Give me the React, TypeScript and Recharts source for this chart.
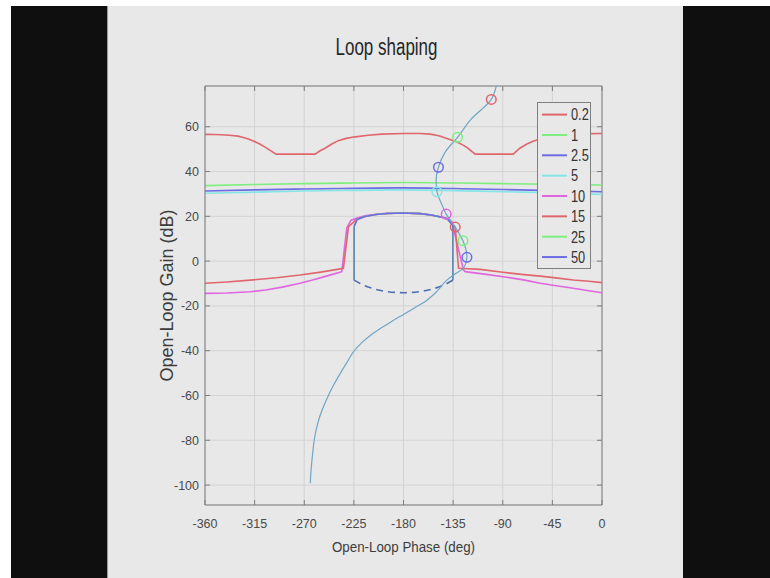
import React from 'react';
import {
  ComposedChart,
  Line,
  Scatter,
  XAxis,
  YAxis,
  CartesianGrid,
  ReferenceLine,
  Legend,
  Label,
} from 'recharts';

// ---------- axes ----------
const xTicks = [-360, -315, -270, -225, -180, -135, -90, -45, 0];
const yTicks = [-100, -80, -60, -40, -20, 0, 20, 40, 60];
const xDomain: [number, number] = [-360, 0];
const yDomain: [number, number] = [-108.9, 78.2];

// ---------- series ----------
const seriesNames = ['0.2', '1', '2.5', '5', '10', '15', '25', '50'];
const seriesColors = ['#e0666e', '#7eee7e', '#6c6ce4', '#86e6e6', '#e066e0', '#e0666e', '#7eee7e', '#6c6ce4'];

// 0.2
const phase02 = [-360, -352, -345, -338, -330, -326, -320.7, -314.6, -310, -305.5, -302, -299.5, -295.6, -260.2, -255.6, -251.1, -245, -239.2, -232, -223.9, -212, -199.6, -180, -165, -155.8, -148, -140.7, -133, -125.9, -122, -119.5, -115, -80.5, -77, -74.5, -68.1, -62, -56, -47, -37.8, -25, 0];
const gain02 = [56.6, 56.55, 56.45, 56.2, 55.8, 55.3, 54.5, 53.3, 52.2, 50.9, 49.8, 49.0, 47.8, 47.8, 49.3, 50.4, 52.3, 53.8, 54.8, 55.5, 56.2, 56.7, 57.0, 57.0, 56.7, 56.0, 54.8, 53.5, 51.8, 50.6, 49.6, 47.8, 47.8, 49.3, 50.4, 52.3, 53.6, 54.5, 55.5, 56.3, 56.8, 57.0];

// 1
const phase1 = [-360, -315, -270, -225, -180, -135, -90, -45, 0];
const gain1 = [33.7, 34.2, 34.6, 34.9, 35.1, 34.9, 34.6, 34.3, 34.0];
// 2.5
const phase25 = [-360, -315, -270, -225, -180, -135, -90, -45, 0];
const gain25 = [31.3, 31.8, 32.2, 32.5, 32.7, 32.4, 32.0, 31.5, 31.0];
// 5
const phase5 = [-360, -315, -270, -225, -180, -135, -90, -45, 0];
const gain5 = [30.3, 30.8, 31.3, 31.6, 31.8, 31.5, 31.0, 30.5, 29.8];

// 10
const phase10 = [-360, -340, -319.2, -305, -290, -273.8, -260, -250, -243.6, -236.0, -231.4, -227.5, -222, -215, -205, -195, -180, -165, -155, -145, -140, -136.1, -125.6, -124.0, -105, -86.2, -70, -56, -40, -26, -12, 0];
const gain10 = [-14.4, -14.2, -13.7, -12.9, -11.6, -9.9, -8.1, -6.7, -5.8, -4.7, 14.9, 18.3, 19.2, 20.2, 20.9, 21.3, 21.5, 21.2, 20.6, 19.6, 18.8, 17.6, -4.0, -4.7, -5.9, -7.2, -8.5, -9.9, -11.1, -12.1, -13.2, -14.1];

// 15
const phase15 = [-360, -340, -319.2, -295, -273.8, -255, -240, -234.5, -229.9, -222.3, -215, -205, -195, -180, -165, -155, -145, -140.7, -133.1, -130.1, -110.4, -90, -73, -56, -40, -26, -12, 0];
const gain15 = [-9.9, -9.3, -8.5, -7.4, -6.2, -4.9, -3.7, -3.2, 15.4, 18.7, 19.9, 20.8, 21.3, 21.5, 21.2, 20.6, 19.6, 19.1, 15.2, -3.2, -3.7, -5.0, -5.9, -6.7, -7.6, -8.4, -9.0, -9.6];

// 25 and 50 (arch top)
const phaseArch = [-224.8, -222, -215, -205, -195, -180, -165, -155, -145, -140, -135.2];
const gainArch25 = [15.5, 18.6, 19.9, 20.8, 21.3, 21.5, 21.2, 20.6, 19.6, 18.8, 15.8];
const gainArch50 = [15.5, 18.6, 19.9, 20.8, 21.3, 21.5, 21.2, 20.6, 19.6, 18.8, 15.8];

// jump segments and dashed lower arc
const phaseJumpLeft = [-224.8, -224.8];
const gainJumpLeft = [15.5, -8.5];
const phaseJumpRight = [-135.2, -135.2];
const gainJumpRight = [15.8, -8.5];
const phaseLowArc = [-224.8, -215, -205, -195, -180, -165, -155, -145, -135.2];
const gainLowArc = [-8.5, -11.0, -12.6, -13.6, -14.1, -13.6, -12.6, -11.0, -8.5];

// open-loop locus (gain increases along it)
const phaseLocus = [-264.6, -263.6, -262.4, -261.0, -258.8, -256.0, -252.4, -248.1, -243.0, -237.2, -231.0, -225.4, -218.0, -209.5, -200.0, -190.0, -180.0, -170.0, -160.0, -149.5, -140.7, -133.0, -125.6, -122.5, -126.1, -133.1, -141.3, -145.8, -149.7, -150.4, -148.3, -142.2, -131.0, -118.5, -100.4, -95.9];
const gainLocus = [-99.2, -92.0, -86.0, -80.0, -74.5, -69.5, -64.8, -60.0, -55.0, -50.0, -45.0, -40.5, -36.5, -33.0, -29.8, -26.7, -23.8, -20.9, -17.9, -13.4, -8.5, -5.6, -3.2, 1.7, 9.1, 15.2, 21.0, 26.0, 31.0, 36.2, 41.9, 48.7, 55.3, 63.5, 72.2, 78.2];

// circle markers on the locus, one per series
const circlePhase = [-100.4, -131.0, -148.3, -149.7, -141.3, -133.1, -126.1, -122.5];
const circleGain = [72.2, 55.3, 41.9, 31.0, 21.0, 15.2, 9.1, 1.7];

type P = { x: number; y: number };
const zip = (xs: number[], ys: number[]): P[] => xs.map((x, i) => ({ x, y: ys[i] }));

const curves: P[][] = [
  zip(phase02, gain02),
  zip(phase1, gain1),
  zip(phase25, gain25),
  zip(phase5, gain5),
  zip(phase10, gain10),
  zip(phase15, gain15),
  zip(phaseArch, gainArch25),
  zip(phaseArch, gainArch50),
];
const curveTypes: any[] = ['linear', 'monotone', 'monotone', 'monotone', 'linear', 'linear', 'linear', 'linear'];

const FONT = "'Liberation Sans', Arial, Helvetica, sans-serif";
const BG = '#e8e8e8';
const AXIS = '#7c7c7c';

// inside tick lengths in data units (5px)
const TX = (5 / 397) * 360;
const TY = 5 / 2.24;

const XLabel = (props: any) => {
  const vb = props.viewBox || {};
  const cx = vb.x + vb.width / 2;
  return (
    <text x={cx} y={vb.y + 47} textAnchor="middle" fontSize={15} fill="#3c3c3c" fontFamily={FONT} textLength={143} lengthAdjust="spacingAndGlyphs">
      Open-Loop Phase (deg)
    </text>
  );
};

const YLabel = (props: any) => {
  const vb = props.viewBox || {};
  const cy = vb.y + vb.height / 2;
  const bx = vb.x + 28;
  return (
    <text x={bx} y={cy} textAnchor="middle" fontSize={18} fill="#3c3c3c" fontFamily={FONT} transform={`rotate(-90, ${bx}, ${cy})`}>
      Open-Loop Gain (dB)
    </text>
  );
};

const LegendBox = () => (
  <svg width={54} height={167} style={{ display: 'block' }}>
    <rect x={0.5} y={0.5} width={53} height={166} fill={BG} stroke="#7f7f7f" strokeWidth={1} />
    {seriesNames.map((n, i) => {
      const cy = 12.6 + i * 20.35;
      return (
        <g key={n + i}>
          <line x1={5} x2={30} y1={cy} y2={cy} stroke={seriesColors[i]} strokeWidth={2} />
          <text transform={`translate(34, ${cy + 5.8}) scale(0.8, 1)`} fontSize={16} fill="#333" fontFamily={FONT}>
            {n}
          </text>
        </g>
      );
    })}
  </svg>
);

const circleShape = (color: string) => (props: any) => (
  <circle cx={props.cx} cy={props.cy} r={4.8} fill="none" stroke={color} strokeWidth={1.5} />
);

export default function App() {
  return (
    <div style={{ position: 'fixed', left: 0, top: 0, width: 770, height: 578, background: '#ffffff', overflow: 'hidden' }}>
      <div style={{ position: 'absolute', left: 11, top: 6, width: 96, height: 572, background: '#0f0f0f' }} />
      <div style={{ position: 'absolute', left: 107, top: 6, width: 1, height: 572, background: '#9a9a9a' }} />
      <div style={{ position: 'absolute', left: 108, top: 6, width: 575, height: 572, background: BG }} />
      <div style={{ position: 'absolute', left: 683, top: 6, width: 87, height: 572, background: '#0f0f0f' }} />
      <svg style={{ position: 'absolute', left: 0, top: 0 }} width={770} height={80}>
        <text x={386.5} y={55} textAnchor="middle" fontSize={23} fill="#262626" fontFamily={FONT} textLength={102} lengthAdjust="spacingAndGlyphs">
          Loop shaping
        </text>
      </svg>
      <div style={{ position: 'absolute', left: 0, top: 0 }}>
        <ComposedChart width={770} height={578} margin={{ top: 86, right: 168, bottom: 33, left: 145 }}>
          <CartesianGrid stroke="#d3d3d3" strokeWidth={1} />
          <XAxis
            type="number"
            dataKey="x"
            domain={xDomain}
            ticks={xTicks}
            allowDataOverflow
            height={40}
            tickLine={false}
            tickSize={6}
            tickMargin={8}
            axisLine={{ stroke: AXIS }}
            tick={{ fontSize: 12.5, fill: '#4a4a4a', fontFamily: FONT }}
            interval={0}
          >
            <Label content={XLabel} />
          </XAxis>
          <YAxis
            type="number"
            dataKey="y"
            domain={yDomain}
            ticks={yTicks}
            allowDataOverflow
            width={60}
            tickLine={false}
            tickSize={4}
            tickMargin={2}
            axisLine={{ stroke: AXIS }}
            tick={{ fontSize: 12.5, fill: '#4a4a4a', fontFamily: FONT }}
            interval={0}
          >
            <Label content={YLabel} />
          </YAxis>

          <ReferenceLine y={yDomain[1]} stroke={AXIS} />
          <ReferenceLine x={xDomain[1]} stroke={AXIS} />
          {xTicks.map((t) => (
            <ReferenceLine key={'bx' + t} segment={[{ x: t, y: yDomain[0] }, { x: t, y: yDomain[0] + TY }]} stroke={AXIS} />
          ))}
          {xTicks.map((t) => (
            <ReferenceLine key={'tx' + t} segment={[{ x: t, y: yDomain[1] }, { x: t, y: yDomain[1] - TY }]} stroke={AXIS} />
          ))}
          {yTicks.map((t) => (
            <ReferenceLine key={'ly' + t} segment={[{ x: xDomain[0], y: t }, { x: xDomain[0] + TX, y: t }]} stroke={AXIS} />
          ))}
          {yTicks.map((t) => (
            <ReferenceLine key={'ry' + t} segment={[{ x: xDomain[1], y: t }, { x: xDomain[1] - TX, y: t }]} stroke={AXIS} />
          ))}

          {curves.map((d, i) => (
            <Line
              key={'s' + i}
              data={d}
              dataKey="y"
              name={seriesNames[i]}
              type={curveTypes[i]}
              stroke={seriesColors[i]}
              strokeWidth={1.6}
              dot={false}
              activeDot={false}
              isAnimationActive={false}
              legendType="none"
            />
          ))}
          <Line data={zip(phaseJumpLeft, gainJumpLeft)} dataKey="y" type="linear" stroke="#4e7eaa" strokeWidth={1.5} dot={false} activeDot={false} isAnimationActive={false} legendType="none" />
          <Line data={zip(phaseJumpRight, gainJumpRight)} dataKey="y" type="linear" stroke="#4e7eaa" strokeWidth={1.5} dot={false} activeDot={false} isAnimationActive={false} legendType="none" />
          <Line data={zip(phaseLowArc, gainLowArc)} dataKey="y" type="monotone" stroke="#4f6db4" strokeWidth={1.6} strokeDasharray="7 5" dot={false} activeDot={false} isAnimationActive={false} legendType="none" />
          <Line data={zip(phaseLocus, gainLocus)} dataKey="y" type="monotoneY" stroke="#6fa6c6" strokeWidth={1.2} dot={false} activeDot={false} isAnimationActive={false} legendType="none" />

          {circlePhase.map((p, i) => (
            <Scatter
              key={'c' + i}
              data={[{ x: p, y: circleGain[i] }]}
              dataKey="y"
              shape={circleShape(seriesColors[i])}
              isAnimationActive={false}
              legendType="none"
            />
          ))}

          <Legend
            layout="horizontal"
            align="center"
            verticalAlign="middle"
            content={() => <LegendBox />}
            wrapperStyle={{ left: 537, top: 102, width: 54, height: 167 }}
          />
        </ComposedChart>
      </div>
    </div>
  );
}
